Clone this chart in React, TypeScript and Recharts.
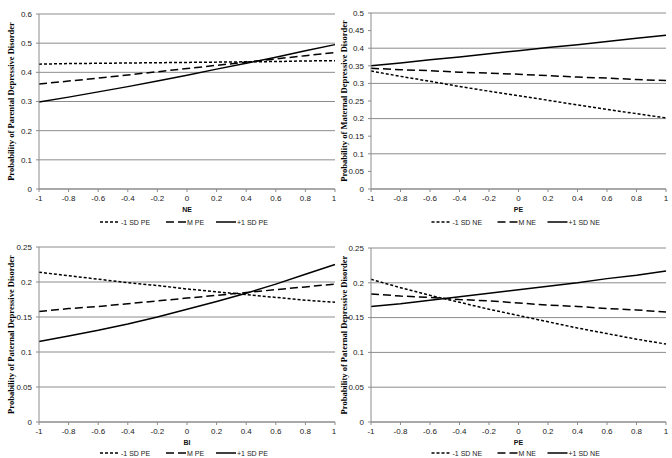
import { LineChart, Line, XAxis, YAxis, CartesianGrid, Label } from 'recharts';

const xValues = [-1, -0.8, -0.6, -0.4, -0.2, 0, 0.2, 0.4, 0.6, 0.8, 1];

// Panel A: parental, NE on x, lines by PE
const parentLow = [0.428, 0.43, 0.431, 0.432, 0.433, 0.434, 0.435, 0.436, 0.437, 0.439, 0.44];
const parentMean = [0.36, 0.37, 0.38, 0.391, 0.402, 0.413, 0.424, 0.435, 0.446, 0.457, 0.468];
const parentHigh = [0.298, 0.315, 0.333, 0.351, 0.37, 0.39, 0.411, 0.431, 0.452, 0.474, 0.495];

// Panel B: maternal, PE on x, lines by NE
const maternalLow = [0.335, 0.32, 0.306, 0.291, 0.278, 0.265, 0.252, 0.239, 0.226, 0.214, 0.202];
const maternalMean = [0.343, 0.339, 0.336, 0.332, 0.329, 0.326, 0.322, 0.318, 0.315, 0.311, 0.308];
const maternalHigh = [0.35, 0.358, 0.367, 0.375, 0.384, 0.393, 0.402, 0.41, 0.419, 0.428, 0.437];

// Panel C: paternal, BI on x, lines by PE
const paternalBiLow = [0.214, 0.209, 0.204, 0.199, 0.195, 0.19, 0.186, 0.182, 0.178, 0.174, 0.171];
const paternalBiMean = [0.158, 0.162, 0.165, 0.169, 0.173, 0.177, 0.181, 0.185, 0.189, 0.193, 0.197];
const paternalBiHigh = [0.115, 0.123, 0.131, 0.14, 0.15, 0.161, 0.172, 0.184, 0.197, 0.211, 0.225];

// Panel D: paternal, PE on x, lines by NE
const paternalPeLow = [0.205, 0.193, 0.182, 0.172, 0.162, 0.153, 0.144, 0.135, 0.127, 0.119, 0.112];
const paternalPeMean = [0.184, 0.181, 0.179, 0.176, 0.174, 0.171, 0.168, 0.166, 0.163, 0.161, 0.158];
const paternalPeHigh = [0.166, 0.17, 0.175, 0.18, 0.185, 0.19, 0.195, 0.2, 0.206, 0.211, 0.217];

const ticksA = [0, 0.1, 0.2, 0.3, 0.4, 0.5, 0.6];
const ticksB = [0, 0.05, 0.1, 0.15, 0.2, 0.25, 0.3, 0.35, 0.4, 0.45, 0.5];
const ticksCD = [0, 0.05, 0.1, 0.15, 0.2, 0.25];

const namesPE = ['-1 SD PE', 'M PE', '+1 SD PE'];
const namesNE = ['-1 SD NE', 'M NE', '+1 SD NE'];

const DASHES = ['3 2', '8 4', undefined];
const GRID = '#8c8c8c';
const SANS = '"Liberation Sans", Arial, sans-serif';
const SERIF = '"Liberation Serif", "Times New Roman", serif';

interface PanelProps {
  low: number[];
  mean: number[];
  high: number[];
  names: string[];
  yTicks: number[];
  yTitle: string;
  xTitle: string;
  left: number;
  top: number;
  plotLeft: number;
  plotRight: number;
  plotTop: number;
  plotBottom: number;
  legendY: number;
  titleX: number;
}

function Panel(p: PanelProps) {
  const W = 336;
  const H = 229;
  const data = xValues.map((x, i) => ({ x, low: p.low[i], mean: p.mean[i], high: p.high[i] }));
  const axisH = 26;
  const keys = ['low', 'mean', 'high'];
  const plotCenter = (p.plotLeft + p.plotRight) / 2;

  return (
    <div style={{ position: 'absolute', left: p.left, top: p.top, width: W, height: H }}>
      <LineChart
        width={W}
        height={H}
        data={data}
        margin={{ top: p.plotTop, right: W - p.plotRight, left: 0, bottom: H - p.plotBottom - axisH }}
      >
        <CartesianGrid vertical={false} stroke={GRID} strokeWidth={1} />
        <XAxis
          dataKey="x"
          type="number"
          domain={[-1, 1]}
          ticks={xValues}
          height={axisH}
          stroke={GRID}
          tickSize={3}
          tickMargin={3}
          tick={{ fill: '#222', fontSize: 8, fontFamily: SANS }}
        >
          <Label
            value={p.xTitle}
            position="insideBottom"
            offset={3}
            style={{ fill: '#111', fontSize: 7, fontWeight: 'bold', fontFamily: SANS }}
          />
        </XAxis>
        <YAxis
          type="number"
          domain={[0, p.yTicks[p.yTicks.length - 1]]}
          ticks={p.yTicks}
          width={p.plotLeft}
          stroke={GRID}
          tickSize={3}
          tickMargin={4}
          tick={{ fill: '#222', fontSize: 8, fontFamily: SANS }}
        >
          <Label
            value={p.yTitle}
            angle={-90}
            position="insideLeft"
            offset={p.titleX}
            style={{ textAnchor: 'middle', fill: '#000', fontSize: 8.5, fontWeight: 'bold', fontFamily: SERIF }}
          />
        </YAxis>
        {keys.map((k, i) => (
          <Line
            key={k}
            dataKey={k}
            name={p.names[i]}
            stroke="#000"
            strokeWidth={1.5}
            strokeDasharray={DASHES[i]}
            dot={false}
            type="linear"
            isAnimationActive={false}
          />
        ))}
      </LineChart>
      <svg
        width={W}
        height={12}
        style={{ position: 'absolute', left: 0, top: p.legendY - 6 }}
      >
        {(() => {
          const itemW = [58, 42, 58];
          const total = itemW.reduce((s, v) => s + v, 0) + 2 * 8;
          let cx = plotCenter - total / 2;
          return p.names.map((n, i) => {
            const x0 = cx;
            cx += itemW[i] + 8;
            return (
              <g key={n}>
                <line x1={x0} x2={x0 + 20} y1={6} y2={6} stroke="#000" strokeWidth={1.5} strokeDasharray={DASHES[i]} />
                <text x={x0 + 21} y={8.5} fontSize={7} fontFamily={SANS} fill="#222">{n}</text>
              </g>
            );
          });
        })()}
      </svg>
    </div>
  );
}

export default function App() {
  return (
    <div style={{ position: 'absolute', left: 0, top: 0, width: 672, height: 458, background: '#fff' }}>
      <Panel
        low={parentLow} mean={parentMean} high={parentHigh} names={namesPE}
        yTicks={ticksA} yTitle="Probability of Parental Depressive Disorder" xTitle="NE"
        left={0} top={0} plotLeft={39} plotRight={335} plotTop={14} plotBottom={189} legendY={222} titleX={11}
      />
      <Panel
        low={maternalLow} mean={maternalMean} high={maternalHigh} names={namesNE}
        yTicks={ticksB} yTitle="Probability of Maternal Depressive Disorder" xTitle="PE"
        left={336} top={0} plotLeft={35} plotRight={330} plotTop={13} plotBottom={189} legendY={222} titleX={8}
      />
      <Panel
        low={paternalBiLow} mean={paternalBiMean} high={paternalBiHigh} names={namesPE}
        yTicks={ticksCD} yTitle="Probability of Paternal Depressive Disorder" xTitle="BI"
        left={0} top={229} plotLeft={39} plotRight={335} plotTop={18} plotBottom={193} legendY={224} titleX={11}
      />
      <Panel
        low={paternalPeLow} mean={paternalPeMean} high={paternalPeHigh} names={namesNE}
        yTicks={ticksCD} yTitle="Probability of Paternal Depressive Disorder" xTitle="PE"
        left={336} top={229} plotLeft={35} plotRight={330} plotTop={19} plotBottom={193} legendY={224} titleX={8}
      />
    </div>
  );
}
